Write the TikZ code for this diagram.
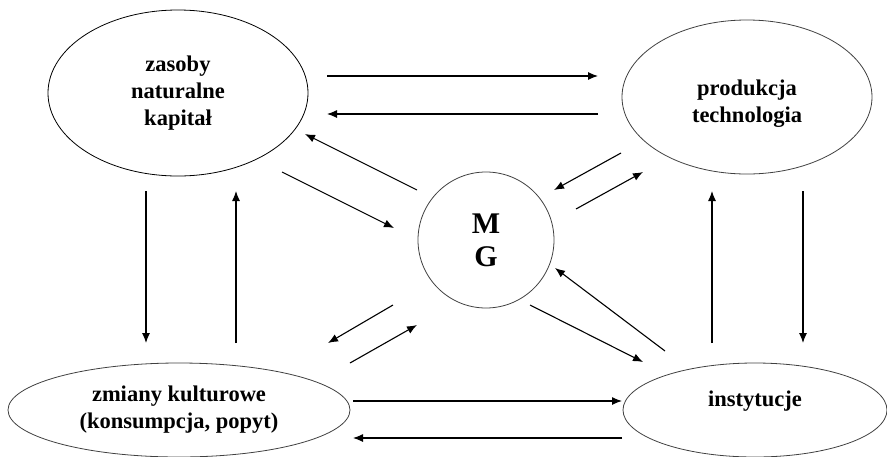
\documentclass[tikz,border=0pt]{standalone}
\usepackage{fontspec}
\setmainfont{Liberation Serif}
\usetikzlibrary{shapes.geometric,arrows.meta,positioning}
\tikzset{
  blobfont/.style={align=center,font=\bfseries\fontsize{22.5}{27}\selectfont},
  blob/.style={draw=black!75,line width=0.8pt,ellipse,inner sep=0pt,blobfont},
  flow/.style={line width=1.1pt,-{Latex[length=10pt,width=8pt]}}
}
\begin{document}
\begin{tikzpicture}[x=1pt,y=-1pt]
\useasboundingbox (0,0) rectangle (887,456);
\node[blob,draw=black,minimum width=260pt,minimum height=166pt] (zasoby) at (178,93) {zasoby\\naturalne\\kapitał};
\node[blob,minimum width=250pt,minimum height=154pt,
  label={[blobfont,yshift=-7pt]center:produkcja\\technologia}] (produkcja) at (747,97) {};
\node[blob,circle,minimum size=136pt,font=\bfseries\fontsize{30}{33}\selectfont] (mg) at (486,240) {M\\G};
\node[blob,minimum width=342pt,minimum height=94pt] (zmiany) at (179,410) {zmiany kulturowe\\(konsumpcja, popyt)};
\node[blob,minimum width=264pt,minimum height=94pt,
  label={[blobfont,yshift=9pt]center:instytucje}] (instytucje) at (755,410) {};
\coordinate (zp1) at (327,76);  \coordinate (zp2) at (598,76);
\coordinate (pz1) at (598,114); \coordinate (pz2) at (327,114);
\coordinate (mz1) at (417,190); \coordinate (mz2) at (305,134);
\coordinate (zm1) at (282,172); \coordinate (zm2) at (394,228);
\coordinate (pm1) at (621,153); \coordinate (pm2) at (554,190);
\coordinate (mp1) at (576,209); \coordinate (mp2) at (643,172);
\coordinate (zk1) at (146,191); \coordinate (zk2) at (146,343);
\coordinate (kz1) at (236,343); \coordinate (kz2) at (236,191);
\coordinate (ip1) at (712,343); \coordinate (ip2) at (712,191);
\coordinate (pi1) at (803,191); \coordinate (pi2) at (803,343);
\coordinate (mk1) at (393,305); \coordinate (mk2) at (328,343);
\coordinate (km1) at (350,363); \coordinate (km2) at (417,325);
\coordinate (mi1) at (530,305); \coordinate (mi2) at (643,362);
\coordinate (im1) at (665,351); \coordinate (im2) at (555,268);
\coordinate (ki1) at (353,401); \coordinate (ki2) at (622,401);
\coordinate (ik1) at (622,438); \coordinate (ik2) at (353,438);
\foreach \a/\b in {zp1/zp2,pz1/pz2,mz1/mz2,zm1/zm2,pm1/pm2,mp1/mp2,zk1/zk2,kz1/kz2,
  ip1/ip2,pi1/pi2,mk1/mk2,km1/km2,mi1/mi2,im1/im2,ki1/ki2,ik1/ik2}
  \draw[flow] (\a) -- (\b);
\end{tikzpicture}
\end{document}
